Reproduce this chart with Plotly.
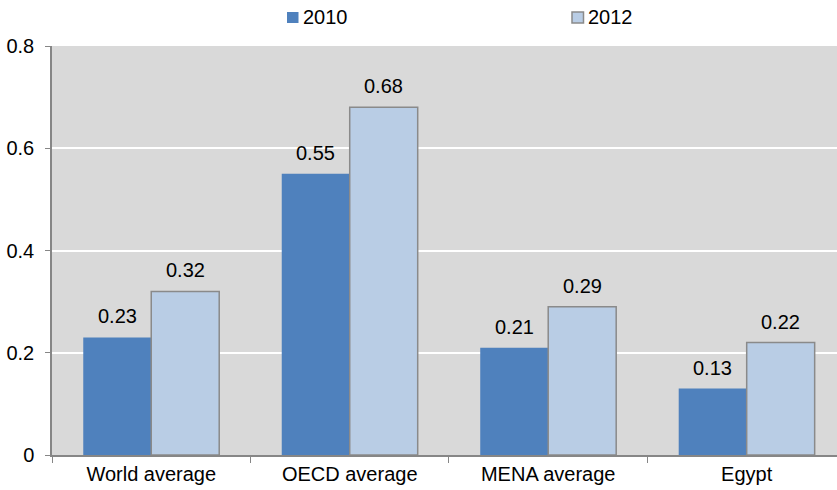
import plotly.graph_objects as go

categories = ["World average", "OECD average", "MENA average", "Egypt"]
series_names = ["2010", "2012"]
values_2010 = [0.23, 0.55, 0.21, 0.13]
values_2012 = [0.32, 0.68, 0.29, 0.22]
y_ticks = [0, 0.2, 0.4, 0.6, 0.8]
y_tick_labels = ["0", "0.2", "0.4", "0.6", "0.8"]

FONT = "Liberation Sans, Arial, sans-serif"
colors = ["#4f81bd", "#b9cde5"]
border = ["#4f81bd", "#8a8a8a"]

fig = go.Figure()
for name, vals, col, bcol in zip(series_names, (values_2010, values_2012), colors, border):
    fig.add_trace(go.Bar(x=categories, y=vals, name=name, showlegend=False, hoverinfo="skip",
                         marker=dict(color=col, line=dict(color=bcol, width=0 if bcol == col else 1.5))))

annotations = []
shapes = []
for vals, shift in ((values_2010, -34), (values_2012, 34)):
    for c, v in zip(categories, vals):
        annotations.append(dict(x=c, y=v, xref="x", yref="y", text=f"{v:.2f}",
                                showarrow=False, xshift=shift, yshift=8,
                                yanchor="bottom", font=dict(size=20, color="#000", family=FONT)))

# manual legend (square marker tight against label, like the reference)
PLOT_L, PLOT_W, PLOT_B, PLOT_H = 52, 785, 455, 409
def px_x(p):
    return (p - PLOT_L) / PLOT_W
def px_y(p):
    return (PLOT_B - p) / PLOT_H
legend_left_px = [287, 572]
for name, col, bcol, lx in zip(series_names, colors, border, legend_left_px):
    shapes.append(dict(type="rect", xref="paper", yref="paper",
                       x0=px_x(lx), x1=px_x(lx + 11.5), y0=px_y(23), y1=px_y(12),
                       fillcolor=col, line=dict(color=bcol, width=0 if bcol == col else 1.5)))
    annotations.append(dict(x=px_x(lx + 14), y=px_y(17.5), xref="paper", yref="paper",
                            text=name, showarrow=False, xanchor="left", yanchor="middle",
                            font=dict(size=20, color="#000", family=FONT)))

fig.update_layout(
    width=837, height=490,
    margin=dict(l=52, r=0, t=46, b=35, autoexpand=False),
    paper_bgcolor="white", plot_bgcolor="#d9d9d9",
    barmode="group", bargap=0.315, bargroupgap=0,
    font=dict(family=FONT, size=20, color="#000"),
    showlegend=False,
    annotations=annotations,
    shapes=shapes,
    xaxis=dict(range=[-0.5, 3.455], showline=True, linecolor="#868686", linewidth=1.5,
               ticks="outside", tickson="boundaries", ticklen=6, tickcolor="#868686",
               showgrid=False, tickfont=dict(size=20), automargin=False),
    yaxis=dict(range=[0, 0.8], tickvals=y_ticks, ticktext=y_tick_labels,
               showline=True, linecolor="#868686", linewidth=1.5,
               ticks="outside", ticklen=5, tickcolor="#868686",
               gridcolor="white", gridwidth=1.5, zeroline=False,
               ticklabelstandoff=7, tickfont=dict(size=20), automargin=False),
)
fig.write_html("out.html", config={"displayModeBar": False},
               post_script="document.body.style.margin='0';document.body.style.overflow='hidden';")
